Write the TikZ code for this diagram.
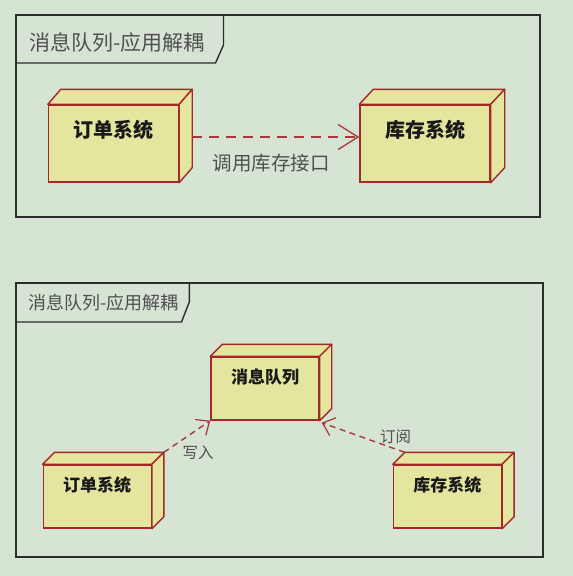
\documentclass[tikz,border=0pt]{standalone}
\usepackage{fontspec}
\newfontfamily\cjk{Noto Sans CJK SC}
\usetikzlibrary{arrows.meta}
\pgfdeclarelayer{background}
\pgfdeclarelayer{canvas}
\pgfsetlayers{canvas,background,main}
\definecolor{bgc}{RGB}{214,228,212}
\definecolor{boxfill}{RGB}{228,230,160}
\definecolor{boxline}{RGB}{165,40,40}
\definecolor{arrowc}{RGB}{170,55,55}
\definecolor{framec}{RGB}{45,45,45}
\definecolor{txtgray}{RGB}{80,80,80}
\tikzset{
  framebox/.style={draw=framec, line width=1.4pt},
  frametitle/.style={anchor=west, inner sep=0pt, text=txtgray},
  nodebox/.style={draw=boxline, fill=boxfill, line width=1.4pt, inner xsep=0pt, inner ysep=0pt, text=black!90},
  bigbox/.style={nodebox, minimum width=130pt, text height=32.6pt, text depth=44.4pt, font=\cjk\bfseries\fontsize{20}{20}\selectfont},
  smallbox/.style={nodebox, minimum width=108pt, text height=26.5pt, text depth=36.5pt, font=\cjk\bfseries\fontsize{17}{17}\selectfont},
  face/.style={draw=boxline, fill=boxfill, line width=1.4pt, line join=round},
  depend/.style={draw=arrowc, line width=1.4pt},
  headA/.style={-{Straight Barb[length=20pt, width=25pt, line width=1.3pt]}},
  headB/.style={-{Straight Barb[length=11pt, width=19pt, line width=1.2pt]}},
  deplabel/.style={text=txtgray, inner sep=0pt}
}
\begin{document}
\begin{tikzpicture}[x=1pt, y=-1pt]
\useasboundingbox (0,0) rectangle (573,576);
\begin{pgfonlayer}{canvas}
\fill[bgc] (0,0) rectangle (573,576);
\end{pgfonlayer}

% ---------- top frame ----------
\draw[framebox] (16,15) rectangle (540,217);
\draw[framebox] (16,63) -- (215.5,63) -- (223.5,45) -- (223.5,15);
\node[frametitle, font=\cjk\fontsize{21}{21}\selectfont] (t1) at (29,42) {消息队列-应用解耦};

\node[bigbox] (order1) at (113.5,143.5) {订单系统};
\node[bigbox] (stock1) at (425,143.5) {库存系统};

% ---------- bottom frame ----------
\draw[framebox] (16,283) rectangle (543,557);
\draw[framebox] (16,322) -- (181.5,322) -- (189.3,302) -- (189.3,283);
\node[frametitle, font=\cjk\fontsize{18}{18}\selectfont] (t2) at (28.5,303) {消息队列-应用解耦};

\node[smallbox] (mq) at (265,388.5) {消息队列};
\node[smallbox] (order2) at (97.2,496.5) {订单系统};
\node[smallbox] (stock2) at (447.4,496.5) {库存系统};

% ---------- 3D faces ----------
\begin{pgfonlayer}{background}
\foreach \n/\dx/\dy in {order1/13/15, stock1/14/15, mq/12/12, order2/12/12, stock2/12/12}{
  \filldraw[face] (\n.north west) -- ++(\dx,-\dy) -- ([shift={(\dx,-\dy)}]\n.north east) -- (\n.north east) -- cycle;
  \filldraw[face] (\n.north east) -- ([shift={(\dx,-\dy)}]\n.north east) -- ([shift={(\dx,-\dy)}]\n.south east) -- (\n.south east) -- cycle;
}
\end{pgfonlayer}

% ---------- connectors ----------
\draw[depend, headA, dash pattern=on 10pt off 7pt] ([shift={(13,-6.5)}]order1.east) -- ([shift={(0,-6.5)}]stock1.west);
\node[deplabel, font=\cjk\fontsize{19.5}{19.5}\selectfont] (l1) at (271,163) {调用库存接口};

\draw[depend, headB, dash pattern=on 6pt off 4.5pt] ([shift={(12,-12)}]order2.north east) -- (mq.south west);
\node[deplabel, font=\cjk\fontsize{15.5}{15.5}\selectfont] (l2) at (198,453) {写入};

\draw[depend, headB, dash pattern=on 6pt off 4.5pt] ([shift={(12,-12)}]stock2.north west) -- ([shift={(2,2)}]mq.south east);
\node[deplabel, font=\cjk\fontsize{15.5}{15.5}\selectfont] (l3) at (395.5,437) {订阅};
\end{tikzpicture}
\end{document}
